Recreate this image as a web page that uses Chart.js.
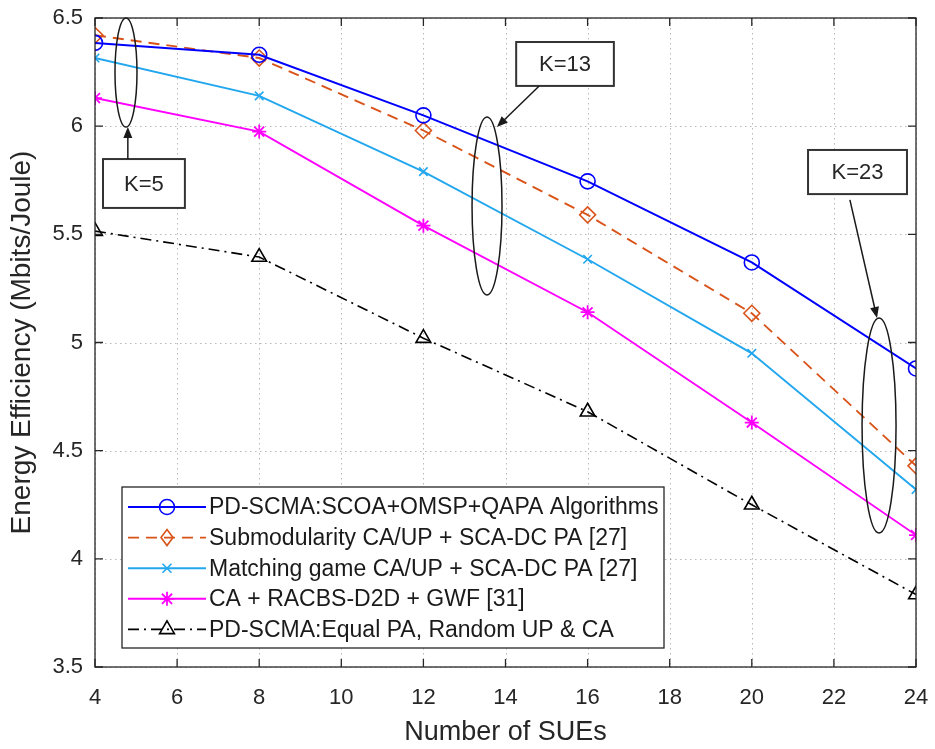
<!DOCTYPE html>
<html>
<head>
<meta charset="utf-8">
<script src="https://cdn.jsdelivr.net/npm/chart.js@4.4.0/dist/chart.umd.min.js"></script>
<style>
  html, body { margin: 0; padding: 0; background: #fff; }
  #wrap { width: 935px; height: 749px; }
</style>
</head>
<body>
<div id="wrap"><canvas id="chart" width="935" height="749"></canvas></div>
<script>
// number of SUEs on the x axis
const sues = [4, 8, 12, 16, 20, 24];

// energy efficiency per scheme (Mbits/Joule)
const proposed      = [6.385, 6.33, 6.05, 5.745, 5.37, 4.88];
const submodularity = [6.42, 6.315, 5.98, 5.59, 5.135, 4.43];
const matching      = [6.315, 6.14, 5.79, 5.385, 4.95, 4.32];
const racbs         = [6.13, 5.975, 5.54, 5.14, 4.63, 4.11];
const equalPA       = [5.515, 5.395, 5.02, 4.68, 4.25, 3.835];

const seriesNames = [
  "PD-SCMA:SCOA+OMSP+QAPA Algorithms",
  "Submodularity CA/UP + SCA-DC PA [27]",
  "Matching game CA/UP + SCA-DC PA [27]",
  "CA + RACBS-D2D + GWF [31]",
  "PD-SCMA:Equal PA, Random UP & CA"
];

const xTicks = [4, 6, 8, 10, 12, 14, 16, 18, 20, 22, 24];
const yTicks = [3.5, 4, 4.5, 5, 5.5, 6, 6.5];

// K=... callouts, in data units: ellipse [cx, cy, rx, ry], box [x1, x2, y1, y2], arrow [fromX, fromY, toX, toY]
const callouts = [
  { text: "K=5",  ellipse: [4.755, 6.248, 0.268, 0.252], box: [4.195, 6.19, 5.848, 5.622],  arrow: [4.80, 5.848, 4.80, 5.996] },
  { text: "K=13", ellipse: [13.55, 5.631, 0.365, 0.411], box: [14.26, 16.64, 6.389, 6.186], arrow: [14.82, 6.186, 13.79, 5.996] },
  { text: "K=23", ellipse: [23.10, 4.616, 0.414, 0.497], box: [21.37, 23.78, 5.890, 5.686], arrow: [22.39, 5.659, 23.05, 5.113] }
];

const FONT = "'Liberation Sans', Arial, Helvetica, sans-serif";
const TXT = "#262626";

function pts(ys) {
  return sues.map((x, i) => ({ x: x, y: ys[i] }));
}

const datasets = [
  { label: seriesNames[0], data: pts(proposed), borderColor: "#0000ff", borderWidth: 2,
    pointStyle: "circle", pointRadius: 7.5, pointBorderWidth: 1.6, borderDash: [] },
  { label: seriesNames[1], data: pts(submodularity), borderColor: "#d95319", borderWidth: 1.9,
    pointStyle: "rectRot", pointRadius: 8, pointBorderWidth: 1.6, borderDash: [11, 7] },
  { label: seriesNames[2], data: pts(matching), borderColor: "#22a7ee", borderWidth: 1.9,
    pointStyle: "crossRot", pointRadius: 6, pointBorderWidth: 1.6, borderDash: [] },
  { label: seriesNames[3], data: pts(racbs), borderColor: "#ff00ff", borderWidth: 1.9,
    pointStyle: "star", pointRadius: 7, pointBorderWidth: 1.8, borderDash: [] },
  { label: seriesNames[4], data: pts(equalPA), borderColor: "#000000", borderWidth: 1.6,
    pointStyle: "triangle", pointRadius: 8.5, pointBorderWidth: 1.6, borderDash: [11, 5, 2, 5] }
].map(d => Object.assign(d, {
  backgroundColor: "rgba(0,0,0,0)",
  pointBorderColor: d.borderColor,
  pointBackgroundColor: "rgba(0,0,0,0)",
  fill: false,
  tension: 0
}));

function drawMarker(ctx, style, x, y, r, color, lw) {
  ctx.save();
  ctx.strokeStyle = color;
  ctx.lineWidth = lw;
  ctx.setLineDash([]);
  ctx.beginPath();
  if (style === "circle") {
    ctx.arc(x, y, r, 0, Math.PI * 2);
  } else if (style === "rectRot") {
    ctx.moveTo(x, y - r); ctx.lineTo(x + r * 0.75, y); ctx.lineTo(x, y + r); ctx.lineTo(x - r * 0.75, y); ctx.closePath();
  } else if (style === "crossRot") {
    const d = r * 0.75;
    ctx.moveTo(x - d, y - d); ctx.lineTo(x + d, y + d); ctx.moveTo(x + d, y - d); ctx.lineTo(x - d, y + d);
  } else if (style === "star") {
    const d = r * 0.72;
    ctx.moveTo(x - r, y); ctx.lineTo(x + r, y); ctx.moveTo(x, y - r); ctx.lineTo(x, y + r);
    ctx.moveTo(x - d, y - d); ctx.lineTo(x + d, y + d); ctx.moveTo(x + d, y - d); ctx.lineTo(x - d, y + d);
  } else if (style === "triangle") {
    ctx.moveTo(x, y - r); ctx.lineTo(x + r * 0.87, y + r * 0.5); ctx.lineTo(x - r * 0.87, y + r * 0.5); ctx.closePath();
  }
  ctx.stroke();
  ctx.restore();
}

const matlabFrame = {
  id: "matlabFrame",
  beforeDatasetsDraw(chart) {
    // dotted grid, MATLAB style
    const { ctx, chartArea: a, scales } = chart;
    ctx.save();
    ctx.strokeStyle = "rgba(0,0,0,0.28)";
    ctx.lineWidth = 1;
    ctx.setLineDash([1.5, 3.5]);
    ctx.beginPath();
    xTicks.forEach(v => {
      const p = Math.round(scales.x.getPixelForValue(v)) + 0.5;
      ctx.moveTo(p, a.top); ctx.lineTo(p, a.bottom);
    });
    yTicks.forEach(v => {
      const p = Math.round(scales.y.getPixelForValue(v)) + 0.5;
      ctx.moveTo(a.left, p); ctx.lineTo(a.right, p);
    });
    ctx.stroke();
    ctx.restore();
  },
  afterDatasetsDraw(chart) {
    const { ctx, chartArea: a, scales } = chart;
    const xs = scales.x, ys = scales.y;

    // callouts
    ctx.save();
    callouts.forEach(c => {
      const [cx, cy, rx, ry] = c.ellipse;
      const px = xs.getPixelForValue(cx), py = ys.getPixelForValue(cy);
      const prx = Math.abs(xs.getPixelForValue(cx + rx) - px);
      const pry = Math.abs(ys.getPixelForValue(cy + ry) - py);
      ctx.strokeStyle = "#1a1a1a";
      ctx.lineWidth = 1.5;
      ctx.beginPath();
      ctx.ellipse(px, py, prx, pry, 0, 0, Math.PI * 2);
      ctx.stroke();

      const [bx1, bx2, by1, by2] = c.box;
      const l = xs.getPixelForValue(bx1), r = xs.getPixelForValue(bx2);
      const t = ys.getPixelForValue(by1), b = ys.getPixelForValue(by2);
      ctx.fillStyle = "#fff";
      ctx.fillRect(l, t, r - l, b - t);
      ctx.strokeStyle = "#333";
      ctx.lineWidth = 2;
      ctx.strokeRect(l, t, r - l, b - t);
      ctx.fillStyle = TXT;
      ctx.font = "22px " + FONT;
      ctx.textAlign = "center";
      ctx.textBaseline = "middle";
      ctx.fillText(c.text, (l + r) / 2, (t + b) / 2 + 1);

      const [fx, fy, tx, ty] = c.arrow;
      const x1 = xs.getPixelForValue(fx), y1 = ys.getPixelForValue(fy);
      const x2 = xs.getPixelForValue(tx), y2 = ys.getPixelForValue(ty);
      const ang = Math.atan2(y2 - y1, x2 - x1);
      ctx.strokeStyle = "#1a1a1a";
      ctx.fillStyle = "#1a1a1a";
      ctx.lineWidth = 1.5;
      ctx.beginPath();
      ctx.moveTo(x1, y1);
      ctx.lineTo(x2 - 8 * Math.cos(ang), y2 - 8 * Math.sin(ang));
      ctx.stroke();
      ctx.beginPath();
      ctx.moveTo(x2, y2);
      ctx.lineTo(x2 - 11 * Math.cos(ang) + 4.5 * Math.sin(ang), y2 - 11 * Math.sin(ang) - 4.5 * Math.cos(ang));
      ctx.lineTo(x2 - 11 * Math.cos(ang) - 4.5 * Math.sin(ang), y2 - 11 * Math.sin(ang) + 4.5 * Math.cos(ang));
      ctx.closePath();
      ctx.fill();
    });
    ctx.restore();

    // axes box with inward ticks
    ctx.save();
    ctx.strokeStyle = TXT;
    ctx.lineWidth = 1.3;
    ctx.strokeRect(a.left, a.top, a.right - a.left, a.bottom - a.top);
    ctx.beginPath();
    xTicks.forEach(v => {
      const p = xs.getPixelForValue(v);
      ctx.moveTo(p, a.bottom); ctx.lineTo(p, a.bottom - 8);
      ctx.moveTo(p, a.top); ctx.lineTo(p, a.top + 8);
    });
    yTicks.forEach(v => {
      const p = ys.getPixelForValue(v);
      ctx.moveTo(a.left, p); ctx.lineTo(a.left + 8, p);
      ctx.moveTo(a.right, p); ctx.lineTo(a.right - 8, p);
    });
    ctx.stroke();
    ctx.restore();

    // legend
    const lg = { left: a.left + 27, top: a.top + 469, width: 542, height: 161, row: 30.6 };
    ctx.save();
    ctx.fillStyle = "#fff";
    ctx.fillRect(lg.left, lg.top, lg.width, lg.height);
    ctx.strokeStyle = TXT;
    ctx.lineWidth = 1.3;
    ctx.strokeRect(lg.left, lg.top, lg.width, lg.height);
    chart.data.datasets.forEach((d, i) => {
      const y = lg.top + 20 + i * lg.row;
      const x0 = lg.left + 6, x1 = lg.left + 84, xm = (x0 + x1) / 2;
      ctx.strokeStyle = d.borderColor;
      ctx.lineWidth = d.borderWidth;
      ctx.setLineDash(d.borderDash || []);
      ctx.beginPath();
      ctx.moveTo(x0, y); ctx.lineTo(x1, y);
      ctx.stroke();
      ctx.setLineDash([]);
      drawMarker(ctx, d.pointStyle, xm, y, d.pointRadius, d.borderColor, d.pointBorderWidth);
      ctx.fillStyle = "#1a1a1a";
      ctx.font = "23px " + FONT;
      ctx.textAlign = "left";
      ctx.textBaseline = "middle";
      ctx.fillText(d.label, x1 + 3, y + 1);
    });
    ctx.restore();
  }
};

new Chart(document.getElementById("chart"), {
  type: "line",
  data: { datasets: datasets },
  plugins: [matlabFrame],
  options: {
    responsive: false,
    animation: false,
    layout: { padding: { left: 0, top: 18, right: 19, bottom: 0 } },
    plugins: { legend: { display: false }, tooltip: { enabled: false } },
    scales: {
      x: {
        type: "linear",
        min: 4, max: 24,
        afterBuildTicks: s => { s.ticks = xTicks.map(v => ({ value: v })); },
        afterFit: s => { s.height = 82; s.paddingLeft = 0; s.paddingRight = 0; },
        ticks: { color: TXT, font: { family: FONT, size: 22 }, padding: 18 },
        grid: { display: false, drawTicks: false },
        border: { display: false },
        title: { display: true, text: "Number of SUEs", color: TXT, font: { family: FONT, size: 27 }, padding: { top: 4, bottom: 0 } }
      },
      y: {
        min: 3.5, max: 6.5,
        afterBuildTicks: s => { s.ticks = yTicks.map(v => ({ value: v })); },
        afterFit: s => { s.width = 95; s.paddingTop = 0; s.paddingBottom = 0; },
        ticks: { color: TXT, font: { family: FONT, size: 22 }, padding: 12, callback: v => String(v) },
        grid: { display: false, drawTicks: false },
        border: { display: false },
        title: { display: true, text: "Energy Efficiency (Mbits/Joule)", color: TXT, font: { family: FONT, size: 28 }, padding: { top: 5, bottom: 4 } }
      }
    }
  }
});
</script>
</body>
</html>
